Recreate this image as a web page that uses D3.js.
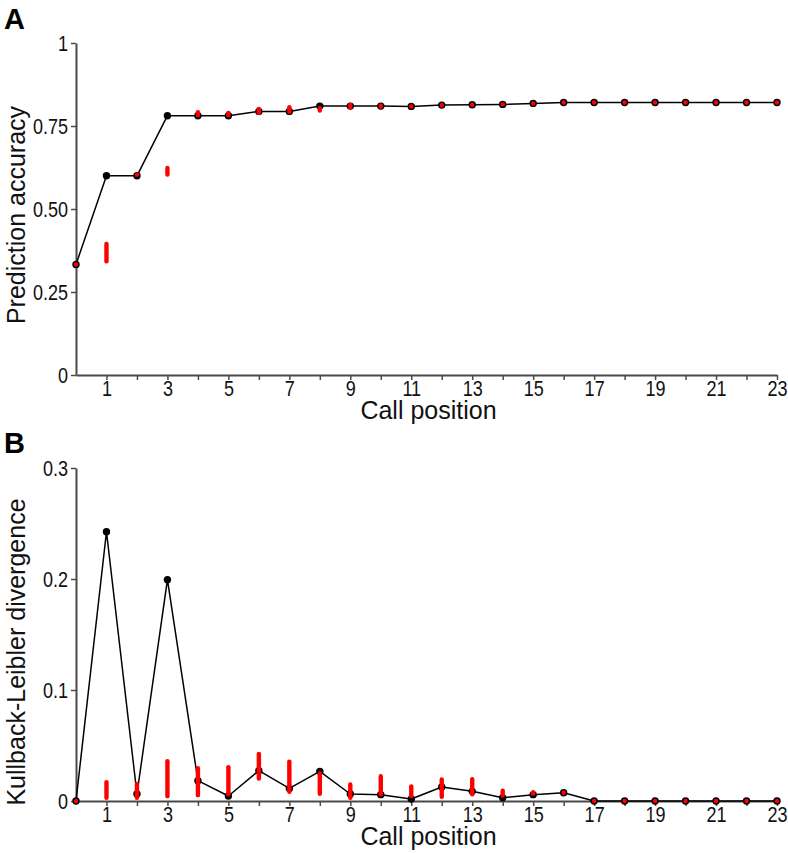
<!DOCTYPE html>
<html>
<head>
<meta charset="utf-8">
<script src="https://cdn.jsdelivr.net/npm/d3@7"></script>
<style>
  html, body { margin: 0; padding: 0; background: #fff; }
  svg { display: block; font-family: "Liberation Sans", Arial, sans-serif; }
</style>
</head>
<body>
<svg id="chart" width="788" height="853"></svg>
<script>
// ---- Data ----
const callPositions = [0,1,2,3,4,5,6,7,8,9,10,11,12,13,14,15,16,17,18,19,20,21,22,23];
const xTickLabels = [1,3,5,7,9,11,13,15,17,19,21,23];

// Panel A: prediction accuracy (model line) and observed range (red bars)
const accModel = [0.333,0.600,0.600,0.781,0.781,0.781,0.794,0.794,0.810,0.810,0.810,0.809,0.813,0.814,0.815,0.818,0.821,0.821,0.821,0.821,0.821,0.821,0.821,0.821];
const accLow   = [0.333,0.336,0.597,0.597,0.776,0.776,0.783,0.786,0.790,0.800,0.802,0.806,0.809,0.811,0.813,0.816,0.821,0.821,0.821,0.821,0.821,0.821,0.821,0.821];
const accHigh  = [0.333,0.401,0.610,0.630,0.798,0.796,0.808,0.813,0.810,0.820,0.818,0.812,0.816,0.816,0.817,0.820,0.821,0.821,0.821,0.821,0.821,0.821,0.821,0.821];
const accTicks = [0, 0.25, 0.5, 0.75, 1];
const accTickLabels = ["0", "0.25", "0.50", "0.75", "1"];

// Panel B: Kullback-Leibler divergence
const klModel = [0,0.2426,0.0063,0.1994,0.0183,0.0045,0.0273,0.0113,0.0267,0.0063,0.0057,0.0018,0.0126,0.0087,0.0030,0.0057,0.0075,0,0,0,0,0,0,0];
const klLow   = [0,0.0010,0.0010,0.0024,0.0033,0.0040,0.0183,0.0063,0.0045,0.0010,0.0040,0.0024,0.0018,0.0040,0.0030,0.0048,0.0075,0,0,0,0,0,0,0];
const klHigh  = [0,0.0190,0.0174,0.0378,0.0315,0.0324,0.0444,0.0375,0.0267,0.0168,0.0243,0.0150,0.0213,0.0216,0.0113,0.0099,0.0075,0,0,0,0,0,0,0];
const klTicks = [0, 0.1, 0.2, 0.3];
const klTickLabels = ["0", "0.1", "0.2", "0.3"];

// ---- Drawing ----
const svg = d3.select("#chart");
const axisColor = "#4a4a4a";
const tickFont = 22, tickScaleX = 0.82;
const titleFont = 25;

function drawPanel(cfg) {
  const x = d3.scaleLinear().domain([0, 23]).range([76, 777]);
  const y = d3.scaleLinear().domain(cfg.yDomain).range([cfg.bottom, cfg.top]);
  const g = svg.append("g");

  // Y axis
  const yAxis = d3.axisLeft(y).tickValues(cfg.ticks)
    .tickFormat((d, i) => cfg.tickLabels[i]).tickSize(5).tickSizeOuter(0).tickPadding(3);
  const gy = g.append("g").attr("transform", `translate(76,0)`).call(yAxis);
  // X axis
  const xAxis = d3.axisBottom(x).tickValues(callPositions)
    .tickFormat(d => xTickLabels.includes(d) ? String(d) : "")
    .tickSize(5).tickSizeOuter(0).tickPadding(0);
  const gx = g.append("g").attr("transform", `translate(0,${cfg.bottom})`).call(xAxis);

  [gy, gx].forEach(a => {
    a.select(".domain").attr("stroke", axisColor).attr("stroke-width", 2);
    a.selectAll(".tick line").attr("stroke", axisColor).attr("stroke-width", 1.5);
    a.selectAll(".tick text").attr("fill", "#111").attr("font-size", tickFont)
      .attr("font-family", "'Liberation Sans', Arial, sans-serif");
  });
  // horizontally condensed tick labels
  gy.selectAll(".tick text").each(function() {
    const t = d3.select(this);
    const xx = +t.attr("x");
    t.attr("x", 0).attr("transform", `translate(${xx},0) scale(${tickScaleX},1)`);
  });
  gx.selectAll(".tick text").attr("transform", `scale(${tickScaleX},1)`);
  gx.selectAll(".tick").filter(d => d === 0).select("line").remove();

  // Model line
  const line = d3.line().x((d, i) => x(callPositions[i])).y(d => y(d));
  g.append("path").datum(cfg.model).attr("d", line)
    .attr("fill", "none").attr("stroke", "#000").attr("stroke-width", 1.5)
    .attr("stroke-linejoin", "round");

  // Model points
  g.append("g").selectAll("circle").data(cfg.model).join("circle")
    .attr("cx", (d, i) => x(callPositions[i])).attr("cy", d => y(d))
    .attr("r", 3.7).attr("fill", "#000");

  // Observed ranges (red bars with rounded ends)
  const bw = 4.4;
  g.append("g").selectAll("rect").data(callPositions).join("rect")
    .each(function(p, i) {
      const y1 = y(cfg.high[i]), y2 = y(cfg.low[i]);
      const h = Math.max(y2 - y1, bw);
      const cy = (y1 + y2) / 2;
      d3.select(this).attr("x", x(p) - bw / 2).attr("y", cy - h / 2)
        .attr("width", bw).attr("height", h).attr("rx", bw / 2).attr("ry", bw / 2);
    })
    .attr("fill", "#ff0000");

  // Titles
  g.append("text").attr("x", (76 + 777) / 2 + 2).attr("y", cfg.bottom + 44)
    .attr("text-anchor", "middle").attr("font-size", titleFont).attr("fill", "#111")
    .text("Call position");
  g.append("text")
    .attr("transform", `translate(25,${cfg.yTitleCenter}) rotate(-90)`)
    .attr("text-anchor", "middle").attr("font-size", titleFont).attr("fill", "#111")
    .text(cfg.yTitle);
  g.append("text").attr("x", 4).attr("y", cfg.labelY)
    .attr("font-size", 29).attr("font-weight", "bold").attr("fill", "#000")
    .text(cfg.label);
}

drawPanel({
  yDomain: [0, 1], top: 43, bottom: 375, ticks: accTicks, tickLabels: accTickLabels,
  model: accModel, low: accLow, high: accHigh,
  yTitle: "Prediction accuracy", yTitleCenter: 215, label: "A", labelY: 29
});
drawPanel({
  yDomain: [0, 0.3], top: 468, bottom: 801, ticks: klTicks, tickLabels: klTickLabels,
  model: klModel, low: klLow, high: klHigh,
  yTitle: "Kullback-Leibler divergence", yTitleCenter: 652, label: "B", labelY: 453
});
</script>
</body>
</html>
